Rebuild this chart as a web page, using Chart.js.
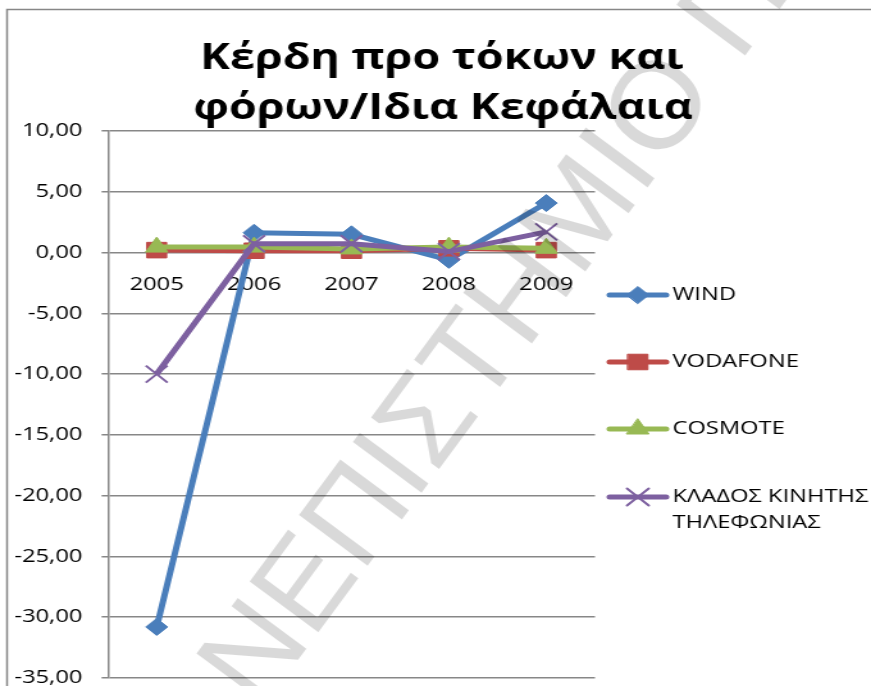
<!DOCTYPE html>
<html lang="el">
<head>
<meta charset="UTF-8">
<title>Κέρδη προ τόκων και φόρων/Ιδια Κεφάλαια</title>
<style>
    html, body {
        margin: 0;
        padding: 0;
        background: #fff;
    }
    /* the chart is drawn narrow and stretched, like the original picture */
    #chart {
        display: block;
        width: 871px !important;
        height: 686px !important;
    }
</style>
<script src="https://cdn.jsdelivr.net/npm/chart.js"></script>
</head>
<body>
<canvas id="chart" width="680" height="686"></canvas>
<script>
// data
const years = ['2005', '2006', '2007', '2008', '2009'];
const wind = [-30.8, 1.63, 1.5, -0.6, 4.07];
const vodafone = [0.2, 0.15, 0.15, 0.35, 0.2];
const cosmote = [0.45, 0.45, 0.3, 0.45, 0.35];
const klados = [-10.0, 0.72, 0.72, 0.08, 1.7];
const seriesNames = ['WIND', 'VODAFONE', 'COSMOTE', 'ΚΛΑΔΟΣ ΚΙΝΗΤΗΣ ΤΗΛΕΦΩΝΙΑΣ'];
const titleLines = ['Κέρδη προ τόκων και', 'φόρων/Ιδια Κεφάλαια'];
const yMin = -35, yMax = 10, yStep = 5;
const watermarkText = 'ΠΑΝΕΠΙΣΤΗΜΙΟ ΠΕΙΡΑΙΩΣ';

const STRETCH = 871 / 680;
const FONT = '"Open Sans", "Noto Sans", sans-serif';

const frameAndTitle = {
    id: 'frameAndTitle',
    beforeDraw(chart) {
        const ctx = chart.ctx;
        ctx.save();
        ctx.fillStyle = '#fff';
        ctx.fillRect(0, 0, chart.width, chart.height);
        ctx.strokeStyle = '#878787';
        ctx.lineWidth = 1.5;
        ctx.beginPath();
        ctx.moveTo(5.5, chart.height + 5);
        ctx.lineTo(5.5, 9.5);
        ctx.lineTo(chart.width + 5, 9.5);
        ctx.stroke();
        ctx.fillStyle = '#000';
        ctx.font = 'bold 35px ' + FONT;
        ctx.textAlign = 'center';
        ctx.textBaseline = 'alphabetic';
        ctx.fillText(titleLines[0], 345, 69);
        ctx.fillText(titleLines[1], 346, 119);
        ctx.restore();
    }
};

const sideLegend = {
    id: 'sideLegend',
    afterDraw(chart) {
        const ctx = chart.ctx;
        const rows = [295, 362, 429, 497];
        const x0 = 476, x1 = 520, tx = 525;
        ctx.save();
        ctx.font = '18.5px ' + FONT;
        ctx.textBaseline = 'middle';
        chart.data.datasets.forEach((ds, i) => {
            const y = rows[i];
            ctx.strokeStyle = ds.borderColor;
            ctx.lineWidth = ds.borderWidth;
            ctx.lineCap = 'round';
            ctx.beginPath();
            ctx.moveTo(x0, y);
            ctx.lineTo(x1, y);
            ctx.stroke();
            ctx.fillStyle = ds.pointBackgroundColor;
            ctx.strokeStyle = ds.pointBorderColor;
            ctx.lineWidth = ds.pointBorderWidth;
            Chart.helpers.drawPoint(ctx, {
                pointStyle: ds.pointStyle,
                radius: ds.pointRadius,
                borderWidth: ds.pointBorderWidth,
                rotation: 0
            }, (x0 + x1) / 2, y);
            // wrap long names
            const maxW = chart.width - tx - 2;
            const words = ds.label.split(' ');
            const lines = [];
            let cur = '';
            words.forEach(w => {
                const t = cur ? cur + ' ' + w : w;
                if (ctx.measureText(t).width > maxW && cur) {
                    lines.push(cur);
                    cur = w;
                } else {
                    cur = t;
                }
            });
            lines.push(cur);
            ctx.fillStyle = '#000';
            lines.forEach((l, k) => ctx.fillText(l, tx, y + k * 26));
        });
        ctx.restore();
    }
};

const watermark = {
    id: 'watermark',
    afterDraw(chart) {
        const ctx = chart.ctx;
        ctx.save();
        ctx.scale(1 / STRETCH, 1);
        ctx.font = '124px "Liberation Sans", Arial, sans-serif';
        ctx.fillStyle = 'rgba(0, 0, 0, 0.15)';
        const pre = ctx.measureText('ΠΑ').width + ctx.measureText('Ν').width / 2;
        const capH = 0.716 * 124;
        ctx.translate(250, 650);
        ctx.rotate(-53.5 * Math.PI / 180);
        ctx.textBaseline = 'alphabetic';
        ctx.fillText(watermarkText, -pre, capH / 2);
        ctx.restore();
    }
};

const colors = ['#4a7ebb', '#be4b48', '#98b954', '#7d60a0'];
const styles = ['rectRot', 'rect', 'triangle', 'crossRot'];
const radii = [8.5, 11, 10, 12];
const allData = [wind, vodafone, cosmote, klados];

const datasets = allData.map((d, i) => ({
    label: seriesNames[i],
    data: d,
    borderColor: colors[i],
    backgroundColor: colors[i],
    borderWidth: 5,
    pointStyle: styles[i],
    pointRadius: radii[i],
    pointHoverRadius: radii[i],
    pointBackgroundColor: colors[i],
    pointBorderColor: colors[i],
    pointBorderWidth: i === 3 ? 2 : 1,
    tension: 0,
    fill: false,
    order: 4 - i
}));

new Chart(document.getElementById('chart'), {
    type: 'line',
    data: { labels: years, datasets: datasets },
    plugins: [frameAndTitle, sideLegend, watermark],
    options: {
        responsive: false,
        animation: false,
        devicePixelRatio: 1,
        layout: {
            autoPadding: false,
            padding: { left: 0, top: 131, right: 215.5, bottom: 8 }
        },
        plugins: {
            legend: { display: false },
            title: { display: false },
            tooltip: { enabled: false }
        },
        scales: {
            x: {
                position: { y: 0 },
                offset: true,
                grid: { display: false, drawTicks: false },
                border: { display: false },
                ticks: {
                    color: '#000',
                    font: { family: FONT, size: 18.5 },
                    padding: 21,
                    maxRotation: 0
                },
                afterFit(scale) {
                    scale.height = 0;
                    scale.paddingLeft = 0;
                    scale.paddingRight = 0;
                }
            },
            y: {
                min: yMin,
                max: yMax,
                grid: { color: '#878787', lineWidth: 1.5, tickLength: 5 },
                border: { color: '#878787', width: 1.5 },
                ticks: {
                    stepSize: yStep,
                    color: '#000',
                    font: { family: FONT, size: 18.5 },
                    padding: 15,
                    callback: v => v.toFixed(2).replace('.', ',')
                },
                afterFit(scale) {
                    scale.width = 84.3;
                    scale.paddingTop = 0;
                    scale.paddingBottom = 0;
                }
            }
        }
    }
});
</script>
</body>
</html>
